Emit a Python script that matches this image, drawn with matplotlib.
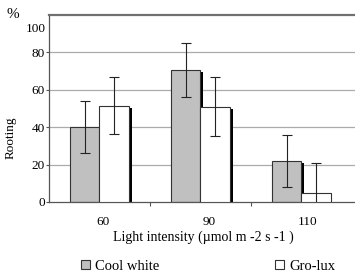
import matplotlib
matplotlib.use("Agg")
import matplotlib.pyplot as plt
import matplotlib.transforms as mtransforms
from matplotlib.patches import Patch
import numpy as np

categories = ["60", "90", "110"]
cool_white = [40, 70.5, 22]
cool_white_err = [14, 14.4, 14]
gro_lux = [51.5, 51, 5]
gro_lux_err = [15.4, 15.6, 15.7]
yticks = [0, 20, 40, 60, 80]
series_names = ["Cool white", "Gro-lux"]

plt.rcParams['font.family'] = ['Liberation Serif', 'DejaVu Serif']

fig = plt.figure(figsize=(3.55, 2.74), dpi=100)
ax = fig.add_axes([49/355, 1 - 202/274, 1 - 49/355, (202 - 15)/274])

centers = np.arange(len(categories)) + 0.5
w = 0.292
shadow_w = 0.026
shadow_drop = 1.1

ax.set_xlim(0, 3.03)
ax.set_ylim(0, 100)

# gridlines
for yv in yticks[1:]:
    ax.axhline(yv, color="#ababab", lw=0.9, zorder=0)

gray_x = centers - w / 2
white_x = centers + w / 2

# shadows
for xs, vals in ((gray_x, cool_white), (white_x, gro_lux)):
    for xc, v in zip(xs, vals):
        if v > 10:
            ax.bar(xc + w / 2 + shadow_w / 2, v - shadow_drop, width=shadow_w,
                   color="black", lw=0, zorder=1)

ax.bar(gray_x, cool_white, width=w, color="#c0c0c0", edgecolor="#333333",
       lw=0.8, zorder=2)
ax.bar(white_x, gro_lux, width=w, color="white", edgecolor="#333333",
       lw=0.8, zorder=3)

ax.errorbar(gray_x, cool_white, yerr=cool_white_err, fmt="none",
            ecolor="#222222", elinewidth=0.8, capsize=3.5, capthick=0.8, zorder=4)
ax.errorbar(white_x, gro_lux, yerr=gro_lux_err, fmt="none",
            ecolor="#222222", elinewidth=0.8, capsize=3.5, capthick=0.8, zorder=4)

# spines
ax.spines["right"].set_visible(False)
ax.spines["top"].set_color("#707070")
ax.spines["top"].set_linewidth(1.6)
ax.spines["left"].set_color("#555555")
ax.spines["left"].set_linewidth(0.9)
ax.spines["bottom"].set_color("#555555")
ax.spines["bottom"].set_linewidth(0.9)

# y ticks
ax.set_yticks(yticks)
ax.set_yticklabels([str(v) for v in yticks], fontsize=9.5)
ax.tick_params(axis="y", length=2.5, width=0.8, color="#555555", pad=0.5)
trans = mtransforms.blended_transform_factory(ax.transAxes, ax.transData)
ax.text(-0.012, 92.5, "100", transform=trans, ha="right", va="center", fontsize=9.5)

# x ticks: marks at group boundaries, labels at categories
ax.set_xticks([1, 2])
ax.set_xticklabels(["", ""])
ax.tick_params(axis="x", which="major", length=3, width=0.8, color="#555555")
ax.set_xticks([0.535, 1.584, 2.561], minor=True)
ax.set_xticklabels(categories, minor=True, fontsize=9.5)
ax.tick_params(axis="x", which="minor", length=0, pad=10)

fig.text(203/355, 1 - 237/274, "Light intensity (\u00b5mol m -2 s -1 )",
         ha="center", va="center", fontsize=10)
fig.text(11/355, 1 - 138/274, "Rooting", rotation=90, ha="center", va="center",
         fontsize=9.5)
fig.text(13/355, 1 - 15/274, "%", ha="center", va="center", fontsize=11)

handles = [Patch(facecolor="#c0c0c0", edgecolor="#333333", lw=0.8),
           Patch(facecolor="white", edgecolor="#333333", lw=0.8)]
fig.legend(handles, series_names, loc="center", bbox_to_anchor=(208/355, 1 - 266/274),
           ncol=2, frameon=False, fontsize=10.5, handlelength=0.65, handleheight=0.65,
           handletextpad=0.35, columnspacing=7.9, borderpad=0, borderaxespad=0)

fig.savefig("out.png", dpi=100)
